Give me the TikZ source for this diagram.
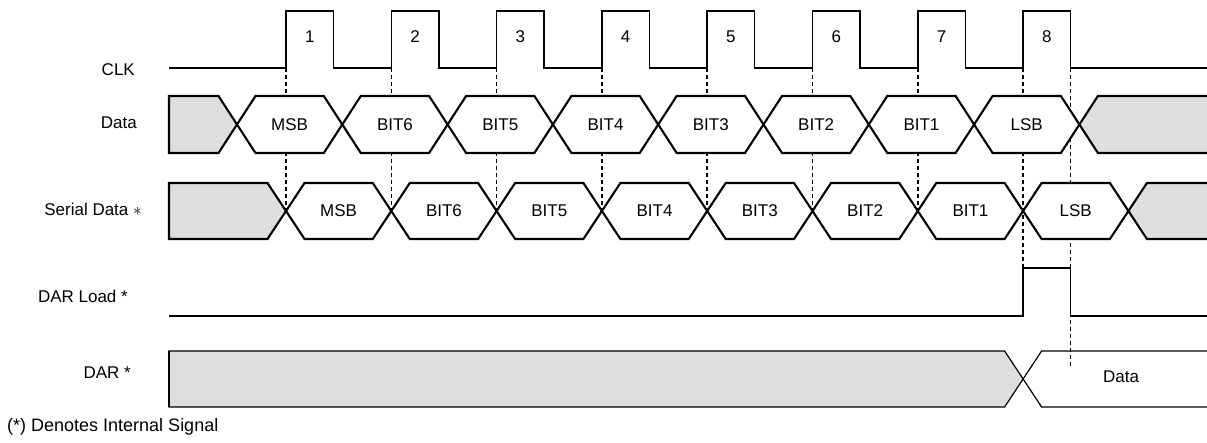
\documentclass[tikz,border=0pt]{standalone}
\usepackage{fontspec}
\setmainfont{Liberation Sans}
\definecolor{idlegray}{RGB}{222,222,222}

\begin{document}
\begin{tikzpicture}[
        x=1pt, y=-1pt,
        font=\fontsize{17}{20}\selectfont,
        signame/.style={anchor=east, inner sep=0pt},
        bus/.style={line width=2.1pt},
        wire/.style={line width=1.5pt},
        thinwire/.style={line width=1.2pt},
        guide/.style={line width=1.6pt, dash pattern=on 4pt off 3pt},
        bitval/.style={inner sep=0pt}
    ]
        \useasboundingbox (0,0) rectangle (1207,443);

        % signal names
        \node[signame] (clk) at (135,70) {CLK};
        \node[signame] (data) at (137,123) {Data};
        \node[signame] (serial) at (142,209) {Serial Data~$\ast$};
        \node[signame] (darload) at (128,296) {DAR Load *};
        \node[signame] (dar) at (131,373) {DAR *};
        \node[anchor=west, inner sep=0pt, font=\fontsize{18}{21}\selectfont] (note) at (7,427) {(*) Denotes Internal Signal};

        % dashed guides from the clock edges
        \foreach \k in {0,...,6}
            \draw[guide] ({286+105.3*\k},68) -- ({286+105.3*\k},211);
        \draw[guide] (1023.1,68) -- (1023.1,268);
        \draw[guide] (1070.6,68) -- (1070.6,368);

        % clock
        \draw[wire] (169,68) \foreach \k in {0,...,7} {
            -- ({286+105.3*\k},68) -- ++(0,-57) -- ++(47.5,0) -- ++(0,57)
        } -- (1207,68);
        \foreach \k in {1,...,8}
            \node[bitval] (pulse\k) at ({286+105.3*(\k-1)+23.75},37) {\k};

        % data bus
        \draw[bus, fill=idlegray] (169,96) -- (218.5,96) -- (237,124.5) -- (218.5,153) -- (169,153) -- cycle;
        \foreach \name [count=\k] in {MSB,BIT6,BIT5,BIT4,BIT3,BIT2,BIT1,LSB} {
            \pgfmathsetmacro{\xa}{237+105.3*(\k-1)}
            \pgfmathsetmacro{\xb}{\xa+105.3}
            \draw[bus, fill=white] (\xa,124.5) -- (\xa+18.5,96) -- (\xb-18.5,96) -- (\xb,124.5) -- (\xb-18.5,153) -- (\xa+18.5,153) -- cycle;
            \node[bitval] (d\k) at ({(\xa+\xb)/2},124.5) {\name};
        }
        \fill[idlegray] (1207,96) -- (1097.9,96) -- (1079.4,124.5) -- (1097.9,153) -- (1207,153) -- cycle;
        \draw[bus] (1207,96) -- (1097.9,96) -- (1079.4,124.5) -- (1097.9,153) -- (1207,153);

        % serial data
        \draw[bus, fill=idlegray] (169,183) -- (267.5,183) -- (286,211) -- (267.5,239) -- (169,239) -- cycle;
        \foreach \name [count=\k] in {MSB,BIT6,BIT5,BIT4,BIT3,BIT2,BIT1,LSB} {
            \pgfmathsetmacro{\xa}{286+105.3*(\k-1)}
            \pgfmathsetmacro{\xb}{\xa+105.3}
            \draw[bus, fill=white] (\xa,211) -- (\xa+18.5,183) -- (\xb-18.5,183) -- (\xb,211) -- (\xb-18.5,239) -- (\xa+18.5,239) -- cycle;
            \node[bitval] (s\k) at ({(\xa+\xb)/2},211) {\name};
        }
        \fill[idlegray] (1207,183) -- (1146.9,183) -- (1128.4,211) -- (1146.9,239) -- (1207,239) -- cycle;
        \draw[bus] (1207,183) -- (1146.9,183) -- (1128.4,211) -- (1146.9,239) -- (1207,239);

        % DAR load
        \draw[wire] (169,316) -- (1023.1,316) -- (1023.1,268) -- (1070.6,268) -- (1070.6,316) -- (1207,316);

        % DAR
        \draw[thinwire, fill=idlegray] (169,351) -- (1004.6,351) -- (1023.1,379) -- (1004.6,407) -- (169,407) -- cycle;
        \draw[bus] (169,351) -- (169,407);
        \draw[thinwire] (1207,351) -- (1041.6,351) -- (1023.1,379) -- (1041.6,407) -- (1207,407);
        \node[bitval] (darval) at (1121,377) {Data};
\end{tikzpicture}
\end{document}
